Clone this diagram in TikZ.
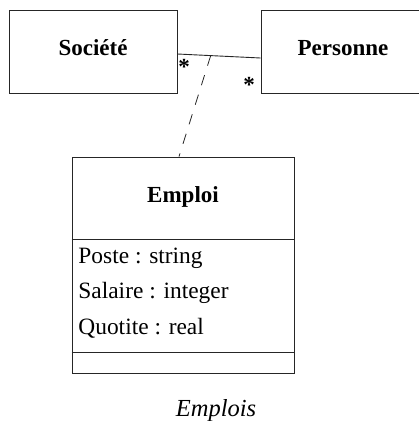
\documentclass[tikz,border=0pt]{standalone}
\usepackage{fontspec}
\setmainfont{Liberation Serif}
\usetikzlibrary{calc}
\begin{document}
\begin{tikzpicture}[x=1pt,y=-1pt,
  line width=0.9pt,
  classbox/.style={draw=black!85, rectangle, inner sep=0pt,
    font=\fontsize{23}{26}\bfseries\selectfont, text height=7pt, text depth=0pt},
  ctitle/.style={font=\fontsize{23}{26}\bfseries\selectfont, anchor=base, inner sep=0pt},
  attr/.style={font=\fontsize{23.4}{26}\selectfont, anchor=base west, inner sep=0pt},
  mult/.style={font=\fontsize{23}{26}\bfseries\selectfont, inner sep=0pt},
  assoc/.style={draw=black!85, line width=0.9pt},
  assocclass/.style={draw=black!85, line width=0.8pt, dash pattern=on 10.5pt off 10pt}
]
\useasboundingbox (0,0) rectangle (419,421);
\clip (0,0) rectangle (419,421);

% the two associated classes
\node[classbox, minimum width=168pt, minimum height=83pt] (soc) at (93,51.5) {Société};
\node[classbox, minimum width=164pt, minimum height=83pt] (per) at (343,51.5) {Personne};

% association and its multiplicities
\draw[assoc] ([yshift=-2.5pt]soc.east) -- coordinate[pos=0.4] (mid) ([yshift=-6.5pt]per.west);
\node[mult] (m1) at (184,66.5) {*};
\node[mult] (m2) at (249,84.5) {*};

% association class
\node[draw=black!85, rectangle, minimum width=222pt, minimum height=216pt, inner sep=0pt] (emploi) at (183,265) {};
\draw[draw=black!85] (emploi.west |- 0,239) -- (emploi.east |- 0,239);
\draw[draw=black!85] (emploi.west |- 0,352) -- (emploi.east |- 0,352);
\node[ctitle] (etitle) at (183,202) {Emploi};
\node[attr] (poste) at (78,263) {Poste : string};
\node[attr] (salaire) at (78,298.5) {Salaire : integer};
\node[attr] (quotite) at (78,334) {Quotite : real};

\draw[assocclass] (mid) -- ([xshift=-4pt]emploi.north);

% caption
\node[font=\fontsize{24.5}{28}\itshape\selectfont, anchor=base, inner sep=0pt] (caption) at (216,416) {Emplois};
\end{tikzpicture}
\end{document}
